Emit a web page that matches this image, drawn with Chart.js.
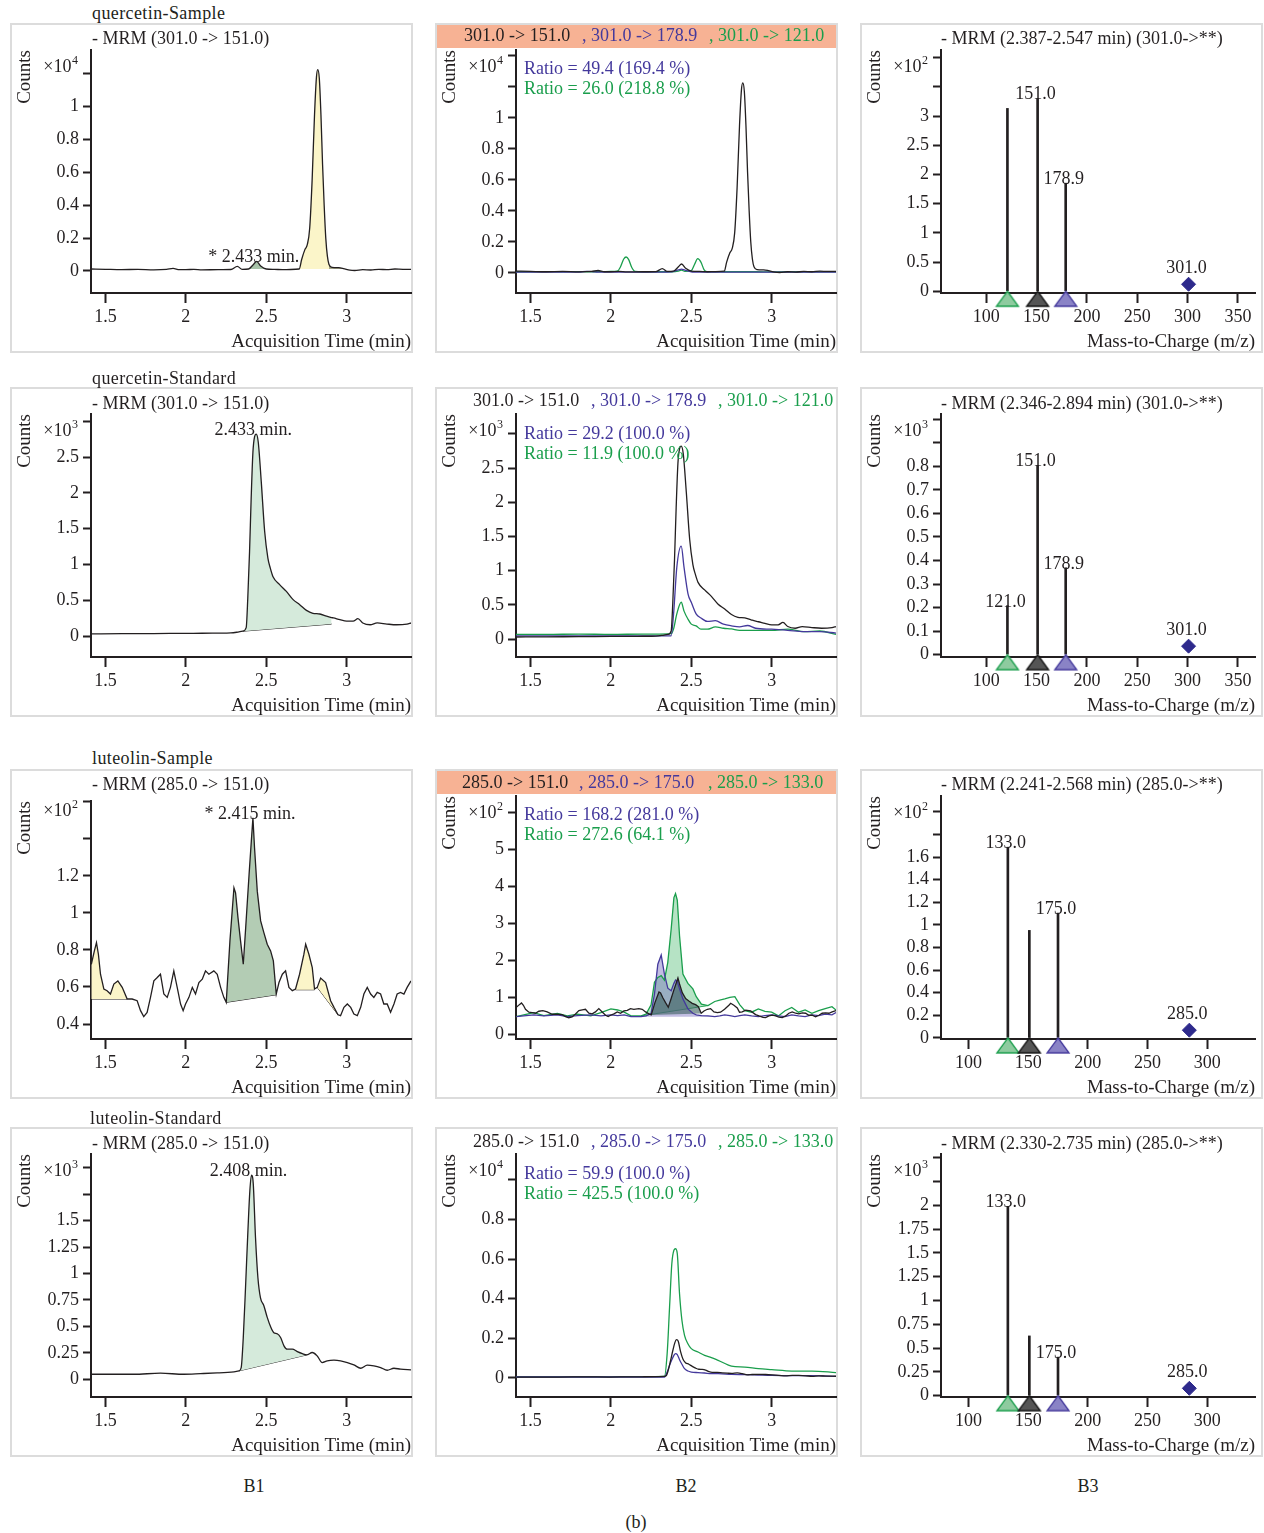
<!DOCTYPE html>
<html lang="en">
<head>
<meta charset="UTF-8">
<title>MRM chromatograms and product ion spectra</title>
<script src="https://cdn.jsdelivr.net/npm/chart.js"></script>
<style>
  body { margin: 0; background: #fff; font-family: "Liberation Serif", "Times New Roman", serif; color: #231f20; }
  #page { position: relative; width: 1264px; height: 1533px; }
  .box { position: absolute; width: 403px; height: 330px; box-sizing: border-box; border: 2px solid #dcdcdc; }
  .hdr { position: absolute; width: 399px; height: 23px; background: #f7b294; }
  canvas { position: absolute; }
  .t { position: absolute; font-size: 18px; line-height: 20px; white-space: nowrap; }
  .nm { letter-spacing: 0.4px; }
  .c { transform: translateX(-50%); }
  .pu { color: #44399c; }
  .gr { color: #1a9e4c; }
</style>
</head>
<body>
<div id="page">
  <!-- panel frames -->
  <div class="box" style="left:10px;top:23px"></div>
  <div class="box" style="left:435px;top:23px"></div>
  <div class="box" style="left:860px;top:23px"></div>
  <div class="box" style="left:10px;top:387px"></div>
  <div class="box" style="left:435px;top:387px"></div>
  <div class="box" style="left:860px;top:387px"></div>
  <div class="box" style="left:10px;top:769px"></div>
  <div class="box" style="left:435px;top:769px"></div>
  <div class="box" style="left:860px;top:769px"></div>
  <div class="box" style="left:10px;top:1127px"></div>
  <div class="box" style="left:435px;top:1127px"></div>
  <div class="box" style="left:860px;top:1127px"></div>
  <div class="hdr" style="left:437px;top:25px"></div>
  <div class="hdr" style="left:437px;top:771px"></div>

  <canvas id="p11" width="403" height="330" style="left:10px;top:23px"></canvas>
  <canvas id="p12" width="403" height="330" style="left:435px;top:23px"></canvas>
  <canvas id="p13" width="403" height="330" style="left:860px;top:23px"></canvas>
  <canvas id="p21" width="403" height="330" style="left:10px;top:387px"></canvas>
  <canvas id="p22" width="403" height="330" style="left:435px;top:387px"></canvas>
  <canvas id="p23" width="403" height="330" style="left:860px;top:387px"></canvas>
  <canvas id="p31" width="403" height="330" style="left:10px;top:769px"></canvas>
  <canvas id="p32" width="403" height="330" style="left:435px;top:769px"></canvas>
  <canvas id="p33" width="403" height="330" style="left:860px;top:769px"></canvas>
  <canvas id="p41" width="403" height="330" style="left:10px;top:1127px"></canvas>
  <canvas id="p42" width="403" height="330" style="left:435px;top:1127px"></canvas>
  <canvas id="p43" width="403" height="330" style="left:860px;top:1127px"></canvas>

  <!-- B1 titles -->
  <div class="t nm" style="left:92px;top:3px">quercetin-Sample</div>
  <div class="t" style="left:92px;top:28px">- MRM (301.0 -&gt; 151.0)</div>
  <div class="t nm" style="left:92px;top:368px">quercetin-Standard</div>
  <div class="t" style="left:92px;top:393px">- MRM (301.0 -&gt; 151.0)</div>
  <div class="t nm" style="left:92px;top:748px">luteolin-Sample</div>
  <div class="t" style="left:92px;top:774px">- MRM (285.0 -&gt; 151.0)</div>
  <div class="t nm" style="left:90px;top:1108px">luteolin-Standard</div>
  <div class="t" style="left:92px;top:1133px">- MRM (285.0 -&gt; 151.0)</div>

  <!-- B2 transitions and ratios -->
  <div class="t" style="left:464px;top:25px">301.0 -&gt; 151.0</div>
  <div class="t pu" style="left:582px;top:25px">, 301.0 -&gt; 178.9</div>
  <div class="t gr" style="left:709px;top:25px">, 301.0 -&gt; 121.0</div>
  <div class="t pu" style="left:524px;top:58px">Ratio = 49.4 (169.4 %)</div>
  <div class="t gr" style="left:524px;top:78px">Ratio = 26.0 (218.8 %)</div>

  <div class="t" style="left:473px;top:390px">301.0 -&gt; 151.0</div>
  <div class="t pu" style="left:591px;top:390px">, 301.0 -&gt; 178.9</div>
  <div class="t gr" style="left:718px;top:390px">, 301.0 -&gt; 121.0</div>
  <div class="t pu" style="left:524px;top:423px">Ratio = 29.2 (100.0 %)</div>
  <div class="t gr" style="left:524px;top:443px">Ratio = 11.9 (100.0 %)</div>

  <div class="t" style="left:462px;top:772px">285.0 -&gt; 151.0</div>
  <div class="t pu" style="left:579px;top:772px">, 285.0 -&gt; 175.0</div>
  <div class="t gr" style="left:708px;top:772px">, 285.0 -&gt; 133.0</div>
  <div class="t pu" style="left:524px;top:804px">Ratio = 168.2 (281.0 %)</div>
  <div class="t gr" style="left:524px;top:824px">Ratio = 272.6 (64.1 %)</div>

  <div class="t" style="left:473px;top:1131px">285.0 -&gt; 151.0</div>
  <div class="t pu" style="left:591px;top:1131px">, 285.0 -&gt; 175.0</div>
  <div class="t gr" style="left:718px;top:1131px">, 285.0 -&gt; 133.0</div>
  <div class="t pu" style="left:524px;top:1163px">Ratio = 59.9 (100.0 %)</div>
  <div class="t gr" style="left:524px;top:1183px">Ratio = 425.5 (100.0 %)</div>

  <!-- B3 titles -->
  <div class="t" style="left:941px;top:28px">- MRM (2.387-2.547 min) (301.0-&gt;**)</div>
  <div class="t" style="left:941px;top:393px">- MRM (2.346-2.894 min) (301.0-&gt;**)</div>
  <div class="t" style="left:941px;top:774px">- MRM (2.241-2.568 min) (285.0-&gt;**)</div>
  <div class="t" style="left:941px;top:1133px">- MRM (2.330-2.735 min) (285.0-&gt;**)</div>

  <div class="t c" style="left:254px;top:1476px">B1</div>
  <div class="t c" style="left:686px;top:1476px">B2</div>
  <div class="t c" style="left:1088px;top:1476px">B3</div>
  <div class="t c" style="left:636px;top:1512px">(b)</div>
</div>

<script>
// ---- quercetin sample, 301.0 -> 151.0 (x10^4 counts) ----
const qSmpTime = [1.41, 1.5, 1.6, 1.7, 1.8, 1.88, 1.92, 1.96, 2.0, 2.05, 2.1, 2.2, 2.28, 2.32, 2.35, 2.39, 2.42, 2.44, 2.465, 2.5,
  2.55, 2.6, 2.65, 2.705, 2.72, 2.74, 2.755, 2.77, 2.785, 2.80, 2.812, 2.82, 2.83, 2.84, 2.85, 2.86, 2.87, 2.88, 2.89, 2.91,
  2.95, 2.98, 3.02, 3.05, 3.1, 3.15, 3.2, 3.25, 3.3, 3.35, 3.4];
const qSmp151 = [0.012, 0.01, 0.008, 0.01, 0.007, 0.01, 0.016, 0.008, 0.008, 0.01, 0.007, 0.008, 0.009, 0.028, 0.01, 0.012, 0.04, 0.058, 0.03, 0.012,
  0.01, 0.008, 0.009, 0.012, 0.07, 0.13, 0.16, 0.26, 0.55, 0.95, 1.18, 1.225, 1.17, 0.95, 0.65, 0.4, 0.2, 0.09, 0.04, 0.022,
  0.02, 0.015, 0.005, 0.003, 0.008, 0.006, 0.01, 0.008, 0.012, 0.01, 0.01];
// qualifier ions
const qSmpIonTime = [1.41, 1.5, 1.6, 1.7, 1.8, 1.85, 1.9, 1.95, 2.0, 2.04, 2.06, 2.08, 2.095, 2.11, 2.13, 2.15, 2.2, 2.3, 2.38, 2.42,
  2.44, 2.46, 2.5, 2.52, 2.54, 2.56, 2.58, 2.6, 2.7, 2.8, 2.9, 3.0, 3.1, 3.2, 3.3, 3.4];
const qSmp179 = [0.006, 0.005, 0.006, 0.005, 0.006, 0.01, 0.007, 0.005, 0.005, 0.005, 0.005, 0.005, 0.005, 0.005, 0.005, 0.005, 0.005, 0.006, 0.008, 0.02,
  0.025, 0.018, 0.008, 0.006, 0.005, 0.005, 0.005, 0.005, 0.005, 0.006, 0.005, 0.006, 0.005, 0.006, 0.005, 0.006];
const qSmp121 = [0.008, 0.008, 0.009, 0.008, 0.009, 0.008, 0.008, 0.009, 0.01, 0.012, 0.04, 0.09, 0.103, 0.088, 0.035, 0.01, 0.008, 0.008, 0.008, 0.012,
  0.018, 0.01, 0.015, 0.055, 0.092, 0.07, 0.02, 0.008, 0.008, 0.008, 0.008, 0.007, 0.008, 0.008, 0.007, 0.008];
// integrated peaks: [start, end, baseline at start, baseline at end]
const qSmpPeaks = [[2.39, 2.50, 0.012, 0.012], [2.705, 2.89, 0.012, 0.012], [2.89, 2.98, 0.012, 0.012]];

// ---- quercetin standard, 301.0 -> 151.0 (x10^3 counts) ----
const qStdTime = [1.41, 1.6, 1.8, 2.0, 2.1, 2.2, 2.28, 2.33, 2.354, 2.375, 2.385, 2.396, 2.406, 2.417, 2.427, 2.4375, 2.45, 2.469, 2.49, 2.51,
  2.525, 2.542, 2.583, 2.625, 2.667, 2.708, 2.75, 2.79, 2.833, 2.875, 2.906, 2.917, 2.958, 3.0, 3.04, 3.07, 3.1, 3.146, 3.19, 3.25,
  3.31, 3.375, 3.4];
const qStd151 = [0.032, 0.035, 0.037, 0.04, 0.041, 0.043, 0.046, 0.06, 0.07, 0.12, 0.53, 1.18, 1.92, 2.57, 2.78, 2.82, 2.71, 2.15, 1.46, 1.09,
  0.95, 0.83, 0.72, 0.625, 0.51, 0.44, 0.36, 0.32, 0.31, 0.28, 0.26, 0.255, 0.23, 0.21, 0.21, 0.245, 0.185, 0.16, 0.185, 0.17,
  0.16, 0.17, 0.185];
const qStdIonTime = [1.41, 1.6, 1.8, 2.0, 2.2, 2.3, 2.375, 2.39, 2.41, 2.4375, 2.455, 2.48, 2.5, 2.53, 2.56, 2.6, 2.65, 2.7, 2.75, 2.8,
  2.85, 2.9, 3.0, 3.1, 3.2, 3.3, 3.4];
const qStd179 = [0.05, 0.05, 0.05, 0.05, 0.05, 0.05, 0.05, 0.37, 1.05, 1.36, 1.05, 0.66, 0.54, 0.37, 0.31, 0.26, 0.27, 0.22, 0.195, 0.18,
  0.2, 0.16, 0.146, 0.13, 0.11, 0.11, 0.09];
const qStd121 = [0.07, 0.07, 0.075, 0.07, 0.075, 0.075, 0.08, 0.15, 0.37, 0.54, 0.41, 0.29, 0.22, 0.195, 0.146, 0.146, 0.18, 0.16, 0.15, 0.13,
  0.13, 0.13, 0.13, 0.146, 0.11, 0.12, 0.07];
const qStdPeaks = [[2.354, 2.906, 0.07, 0.17]];

// ---- luteolin sample, 285.0 -> 151.0 (x10^2 counts) ----
const lutSmpTime = [1.412, 1.431, 1.444, 1.456, 1.469, 1.490, 1.510, 1.531, 1.552, 1.577, 1.604, 1.635, 1.666, 1.697, 1.718, 1.738, 1.759, 1.780, 1.801, 1.822,
  1.842, 1.863, 1.884, 1.904, 1.925, 1.946, 1.967, 1.983, 1.998, 2.019, 2.040, 2.060, 2.081, 2.102, 2.122, 2.143, 2.174, 2.195, 2.216, 2.236,
  2.251, 2.274, 2.299, 2.309, 2.324, 2.340, 2.357, 2.372, 2.393, 2.407, 2.417, 2.427, 2.444, 2.465, 2.485, 2.506, 2.527, 2.544, 2.562, 2.579,
  2.600, 2.620, 2.641, 2.662, 2.682, 2.707, 2.734, 2.745, 2.765, 2.786, 2.800, 2.817, 2.838, 2.869, 2.900, 2.921, 2.946, 2.962, 2.983, 3.004,
  3.025, 3.045, 3.066, 3.087, 3.107, 3.128, 3.149, 3.169, 3.190, 3.211, 3.231, 3.252, 3.273, 3.294, 3.314, 3.335, 3.356, 3.376, 3.40];
const lutSmp151 = [0.723, 0.795, 0.840, 0.777, 0.669, 0.589, 0.580, 0.562, 0.616, 0.633, 0.598, 0.535, 0.535, 0.526, 0.472, 0.440, 0.463, 0.544, 0.633, 0.651,
  0.669, 0.562, 0.544, 0.598, 0.687, 0.598, 0.508, 0.472, 0.508, 0.544, 0.598, 0.562, 0.624, 0.642, 0.687, 0.669, 0.687, 0.669, 0.598, 0.544,
  0.517, 0.849, 1.136, 1.109, 0.975, 0.849, 0.723, 0.921, 1.208, 1.388, 1.514, 1.352, 1.118, 0.957, 0.894, 0.831, 0.795, 0.741, 0.562, 0.624,
  0.669, 0.687, 0.598, 0.580, 0.589, 0.669, 0.777, 0.831, 0.777, 0.705, 0.589, 0.598, 0.648, 0.624, 0.526, 0.490, 0.450, 0.445, 0.490, 0.508,
  0.490, 0.454, 0.445, 0.490, 0.562, 0.598, 0.562, 0.544, 0.571, 0.562, 0.508, 0.508, 0.463, 0.508, 0.562, 0.571, 0.562, 0.598, 0.633];
const lutSmpIonTime = [1.412, 1.458, 1.521, 1.583, 1.667, 1.729, 1.792, 1.875, 1.938, 2.0, 2.042, 2.083, 2.125, 2.188, 2.219, 2.25, 2.271, 2.292, 2.313, 2.333,
  2.354, 2.375, 2.392, 2.402, 2.413, 2.427, 2.448, 2.479, 2.51, 2.531, 2.563, 2.604, 2.646, 2.677, 2.708, 2.74, 2.771, 2.802, 2.833, 2.875,
  2.917, 2.958, 3.0, 3.042, 3.083, 3.125, 3.167, 3.208, 3.25, 3.292, 3.333, 3.375, 3.4];
const lutSmp175 = [0.47, 0.49, 0.52, 0.49, 0.52, 0.47, 0.5, 0.52, 0.49, 0.52, 0.5, 0.52, 0.47, 0.47, 0.49, 0.56, 1.08, 1.89, 2.14, 1.62,
  1.24, 1.17, 1.37, 1.46, 1.42, 1.22, 0.95, 0.68, 0.56, 0.52, 0.5, 0.49, 0.47, 0.49, 0.52, 0.5, 0.47, 0.5, 0.52, 0.49,
  0.47, 0.5, 0.52, 0.49, 0.47, 0.52, 0.49, 0.47, 0.52, 0.5, 0.54, 0.52, 0.58];
const lutSmp133 = [0.47, 0.52, 0.58, 0.5, 0.56, 0.49, 0.54, 0.49, 0.58, 0.68, 0.65, 0.59, 0.49, 0.49, 0.54, 0.79, 1.4, 1.53, 1.58, 1.46,
  1.94, 2.84, 3.69, 3.8, 3.62, 2.66, 1.62, 1.37, 1.22, 1.01, 0.81, 0.77, 0.88, 0.92, 0.95, 0.99, 1.01, 0.79, 0.63, 0.59,
  0.68, 0.61, 0.59, 0.49, 0.63, 0.72, 0.59, 0.65, 0.56, 0.63, 0.69, 0.74, 0.65];
const lutSmpPeaks = [[1.412, 1.635, 0.535, 0.535], [2.251, 2.562, 0.517, 0.558], [2.682, 2.800, 0.585, 0.585], [2.817, 2.946, 0.598, 0.450]];
const lutSmp175Peak = [2.188, 2.646, 0.47, 0.47];
const lutSmp133Peak = [2.188, 2.604, 0.49, 0.77];

// ---- luteolin standard, 285.0 -> 151.0 (x10^3 counts) ----
const lutStdTime = [1.412, 1.676, 1.842, 1.988, 2.091, 2.195, 2.299, 2.33, 2.344, 2.357, 2.371, 2.386, 2.398, 2.408, 2.419, 2.433, 2.448, 2.464, 2.485, 2.506,
  2.527, 2.547, 2.568, 2.589, 2.61, 2.63, 2.662, 2.693, 2.724, 2.751, 2.786, 2.817, 2.848, 2.879, 2.921, 2.962, 3.004, 3.045, 3.087, 3.128,
  3.169, 3.211, 3.252, 3.294, 3.335, 3.401];
const lutStd151 = [0.047, 0.047, 0.057, 0.047, 0.053, 0.06, 0.07, 0.079, 0.11, 0.395, 0.87, 1.41, 1.785, 1.93, 1.85, 1.34, 0.96, 0.77, 0.695, 0.585,
  0.496, 0.44, 0.43, 0.395, 0.316, 0.284, 0.284, 0.262, 0.243, 0.23, 0.253, 0.22, 0.158, 0.174, 0.18, 0.174, 0.158, 0.136, 0.104, 0.133,
  0.126, 0.11, 0.085, 0.104, 0.095, 0.088];
// qualifier ions in x10^4 counts
const lutStdIonTime = [1.41, 1.6, 1.8, 2.0, 2.2, 2.333, 2.35, 2.365, 2.379, 2.392, 2.402, 2.413, 2.427, 2.442, 2.458, 2.479, 2.5, 2.542, 2.583, 2.625,
  2.667, 2.75, 2.833, 2.917, 3.0, 3.125, 3.25, 3.4];
const lutStd175 = [0.005, 0.005, 0.005, 0.005, 0.005, 0.005, 0.03, 0.064, 0.092, 0.114, 0.123, 0.118, 0.092, 0.069, 0.047, 0.035, 0.03, 0.027, 0.025, 0.022,
  0.022, 0.018, 0.017, 0.015, 0.013, 0.012, 0.012, 0.008];
const lutStd133 = [0.006, 0.006, 0.006, 0.006, 0.007, 0.008, 0.123, 0.358, 0.576, 0.644, 0.652, 0.627, 0.425, 0.29, 0.215, 0.173, 0.148, 0.131, 0.114, 0.103,
  0.089, 0.06, 0.055, 0.047, 0.042, 0.035, 0.035, 0.027];
const lutStdPeaks = [[2.33, 2.751, 0.079, 0.23]];

// ---- product ion spectra ----
const qSmpMz = [121.0, 151.0, 178.9];
const qSmpAbund = [3.13, 3.30, 1.85];          // x10^2
const qSmpShown = [false, true, true];
const qSmpPrec = [301.0, 0.12];
const qStdMz = [121.0, 151.0, 178.9];
const qStdAbund = [0.208, 0.804, 0.369];       // x10^3
const qStdShown = [true, true, true];
const qStdPrec = [301.0, 0.036];
const lutSmpMz = [133.0, 151.0, 175.0];
const lutSmpAbund = [1.687, 0.951, 1.104];     // x10^2
const lutSmpShown = [true, false, true];
const lutSmpPrec = [285.0, 0.068];
const lutStdMz = [133.0, 151.0, 175.0];
const lutStdAbund = [1.99, 0.628, 0.405];      // x10^3
const lutStdShown = [true, false, true];
const lutStdPrec = [285.0, 0.077];

// ---------------------------------------------------------------
const ink = '#231f20';
const purple = '#44399c';
const green = '#1a9e4c';
const navy = '#2e2a8c';
const serif = '"Liberation Serif", "Times New Roman", serif';
Chart.defaults.font.family = serif;
Chart.defaults.font.size = 18;
Chart.defaults.color = ink;

function fmt(v) { return String(parseFloat(v.toFixed(3))); }
function pts(time, vals) { return time.map((t, i) => ({x: t, y: vals[i]})); }

function makeScales(xr, yr, xTitle) {
  const axisLine = {display: true, color: ink, width: 2};
  return {
    x: {
      type: 'linear', min: xr.min, max: xr.max, offset: false,
      border: axisLine,
      grid: {display: true, drawOnChartArea: false, drawTicks: true, tickLength: 10, tickWidth: 2, tickColor: ink, offset: false},
      ticks: {stepSize: xr.step, includeBounds: false, autoSkip: false, maxRotation: 0, padding: 3, callback: v => fmt(v)},
      title: {display: true, text: xTitle, align: 'end', font: {size: 19}, padding: {top: 0, bottom: 0}},
      afterFit: s => { s.height = 60; }
    },
    y: {
      type: 'linear', min: yr.min, max: yr.max,
      border: axisLine,
      grid: {display: true, drawOnChartArea: false, drawTicks: true, tickLength: 8, tickWidth: 2, tickColor: ink},
      ticks: {stepSize: yr.step, includeBounds: false, autoSkip: false, padding: 4,
        callback: v => (v > yr.labelMax + 1e-6 ? '' : fmt(v))},
      title: {display: true, text: 'Counts', align: 'end', font: {size: 19}, padding: {top: 4, bottom: 0}},
      afterFit: s => { s.width = 81; }
    }
  };
}

// "x10^n" multiplier beside the top of the y axis
function expPlugin(exp, dy) {
  return {
    id: 'exp',
    afterDraw(chart) {
      const ctx = chart.ctx, a = chart.chartArea;
      const xr = a.left - 13, yc = a.top + dy;
      ctx.save();
      ctx.fillStyle = ink;
      ctx.textAlign = 'right';
      ctx.textBaseline = 'middle';
      ctx.font = '12px ' + serif;
      ctx.fillText(String(exp), xr, yc - 6);
      const w = ctx.measureText(String(exp)).width;
      ctx.font = '18px ' + serif;
      ctx.fillText('\u00d710', xr - w - 0.5, yc);
      ctx.restore();
    }
  };
}

// retention time label over a peak apex
function notePlugin(text, time, vals, at) {
  return {
    id: 'note',
    afterDatasetsDraw(chart) {
      let k = 0;
      time.forEach((t, i) => { if (Math.abs(t - at) < Math.abs(time[k] - at)) k = i; });
      const x = chart.scales.x.getPixelForValue(time[k]);
      const y = chart.scales.y.getPixelForValue(vals[k]);
      const ctx = chart.ctx;
      ctx.save();
      ctx.font = '18px ' + serif;
      ctx.fillStyle = ink;
      ctx.textAlign = 'center';
      ctx.textBaseline = 'alphabetic';
      ctx.fillText(text, x - 3, y + 1);
      ctx.restore();
    }
  };
}

function chrom(id, o) {
  const mode = o.smooth ? 'monotone' : 'default';
  const ds = [];
  o.traces.forEach(tr => ds.push({
    data: pts(tr.t, tr.v), borderColor: tr.c, borderWidth: 1.3, pointRadius: 0, fill: false,
    tension: 0, cubicInterpolationMode: mode
  }));
  o.peaks.forEach(pk => {
    const [a, b, b0, b1] = pk.lim;
    ds.push({
      data: pts(pk.t, pk.v).filter(p => p.x >= a - 1e-6 && p.x <= b + 1e-6),
      borderWidth: 0, borderColor: 'rgba(0,0,0,0)', pointRadius: 0, backgroundColor: pk.fill, fill: '+1',
      tension: 0, cubicInterpolationMode: mode
    });
    ds.push({
      data: [{x: a, y: b0}, {x: b, y: b1}],
      borderColor: pk.edge || 'rgba(0,0,0,0)', borderWidth: 1, pointRadius: 0, fill: false
    });
  });
  const plugins = [expPlugin(o.exp, o.expDy || 17)];
  if (o.note) plugins.push(notePlugin(o.note.text, o.note.t, o.note.v, o.note.at));
  new Chart(document.getElementById(id), {
    type: 'line',
    data: {datasets: ds},
    options: {
      responsive: false, animation: false, events: [],
      layout: {padding: {top: o.top || 27, right: 2, left: 0, bottom: 0}},
      plugins: {legend: {display: false}, tooltip: {enabled: false}},
      scales: makeScales({min: 1.41, max: 3.40, step: 0.5}, o.y, 'Acquisition Time (min)')
    },
    plugins: plugins
  });
}

// triangle marker: apex at the image centre, body below it
function triangle(fill, stroke) {
  const c = document.createElement('canvas');
  c.width = 26; c.height = 34;
  const g = c.getContext('2d');
  g.beginPath();
  g.moveTo(13, 17); g.lineTo(24, 32); g.lineTo(2, 32); g.closePath();
  g.fillStyle = fill; g.fill();
  g.lineWidth = 1.3; g.strokeStyle = stroke; g.stroke();
  return c;
}
const ionMarkers = [triangle('#8ecb9f', '#1a9e4c'), triangle('#555555', '#111111'), triangle('#8a83c6', '#44399c')];

function spec(id, o) {
  const ds = [
    {type: 'scatter', data: [{x: o.prec[0], y: o.prec[1]}], pointStyle: 'rectRot', pointRadius: 7,
      backgroundColor: navy, borderColor: navy, borderWidth: 1},
    {type: 'scatter', data: o.mz.map(m => ({x: m, y: 0})), pointStyle: ionMarkers, clip: false},
    {type: 'bar', data: o.mz.map((m, i) => ({x: m, y: o.abund[i]})), backgroundColor: ink, barThickness: 2}
  ];
  const labels = {
    id: 'mzLabels',
    afterDatasetsDraw(chart) {
      const ctx = chart.ctx, xs = chart.scales.x, ys = chart.scales.y;
      ctx.save();
      ctx.font = '18px ' + serif;
      ctx.fillStyle = ink;
      ctx.textAlign = 'center';
      ctx.textBaseline = 'alphabetic';
      o.mz.forEach((m, i) => {
        if (o.shown[i]) ctx.fillText(m.toFixed(1), xs.getPixelForValue(m) - 2, ys.getPixelForValue(o.abund[i]) + 1);
      });
      ctx.fillText(o.prec[0].toFixed(1), xs.getPixelForValue(o.prec[0]) - 2, ys.getPixelForValue(o.prec[1]) - 11);
      ctx.restore();
    }
  };
  new Chart(document.getElementById(id), {
    type: 'scatter',
    data: {datasets: ds},
    options: {
      responsive: false, animation: false, events: [],
      layout: {padding: {top: 27, right: 2, left: 0, bottom: 0}},
      plugins: {legend: {display: false}, tooltip: {enabled: false}},
      scales: makeScales(o.x, o.y, 'Mass-to-Charge (m/z)')
    },
    plugins: [expPlugin(o.exp, 17), labels]
  });
}

const yellow = '#fbf5c9';
const paleGreen = '#d5eadb';
const peakGreen = '#b3ccb4';

// row 1: quercetin sample
chrom('p11', {
  smooth: true, exp: 4,
  y: {min: -0.134, max: 1.345, step: 0.2, labelMax: 1},
  traces: [{t: qSmpTime, v: qSmp151, c: ink}],
  peaks: [
    {t: qSmpTime, v: qSmp151, lim: qSmpPeaks[0], fill: '#a8c3a9'},
    {t: qSmpTime, v: qSmp151, lim: qSmpPeaks[1], fill: yellow},
    {t: qSmpTime, v: qSmp151, lim: qSmpPeaks[2], fill: '#a3a486'}
  ],
  note: {text: '* 2.433 min.', t: qSmpTime, v: qSmp151, at: 2.44}
});
chrom('p12', {
  smooth: true, exp: 4,
  y: {min: -0.129, max: 1.437, step: 0.2, labelMax: 1},
  traces: [
    {t: qSmpTime, v: qSmp151, c: ink},
    {t: qSmpIonTime, v: qSmp179, c: purple},
    {t: qSmpIonTime, v: qSmp121, c: green}
  ],
  peaks: []
});
spec('p13', {
  mz: qSmpMz, abund: qSmpAbund, shown: qSmpShown, prec: qSmpPrec, exp: 2,
  x: {min: 55, max: 367, step: 50},
  y: {min: -0.03, max: 4.13, step: 0.5, labelMax: 3}
});

// row 2: quercetin standard
chrom('p21', {
  smooth: true, exp: 3,
  y: {min: -0.29, max: 3.10, step: 0.5, labelMax: 2.5},
  traces: [{t: qStdTime, v: qStd151, c: ink}],
  peaks: [{t: qStdTime, v: qStd151, lim: qStdPeaks[0], fill: paleGreen, edge: ink}],
  note: {text: '2.433 min.', t: qStdTime, v: qStd151, at: 2.4375}
});
chrom('p22', {
  smooth: true, exp: 3,
  y: {min: -0.26, max: 3.29, step: 0.5, labelMax: 2.5},
  traces: [
    {t: qStdTime, v: qStd151, c: ink},
    {t: qStdIonTime, v: qStd179, c: purple},
    {t: qStdIonTime, v: qStd121, c: green}
  ],
  peaks: []
});
spec('p23', {
  mz: qStdMz, abund: qStdAbund, shown: qStdShown, prec: qStdPrec, exp: 3,
  x: {min: 55, max: 367, step: 50},
  y: {min: -0.01, max: 1.022, step: 0.1, labelMax: 0.8}
});

// row 3: luteolin sample
chrom('p31', {
  smooth: false, exp: 2, expDy: 10, top: 32,
  y: {min: 0.319, max: 1.605, step: 0.2, labelMax: 1.2},
  traces: [{t: lutSmpTime, v: lutSmp151, c: ink}],
  peaks: [
    {t: lutSmpTime, v: lutSmp151, lim: lutSmpPeaks[0], fill: yellow, edge: ink},
    {t: lutSmpTime, v: lutSmp151, lim: lutSmpPeaks[1], fill: peakGreen, edge: ink},
    {t: lutSmpTime, v: lutSmp151, lim: lutSmpPeaks[2], fill: yellow, edge: ink},
    {t: lutSmpTime, v: lutSmp151, lim: lutSmpPeaks[3], fill: yellow, edge: ink}
  ],
  note: {text: '* 2.415 min.', t: lutSmpTime, v: lutSmp151, at: 2.417}
});
chrom('p32', {
  smooth: false, exp: 2,
  y: {min: -0.135, max: 6.44, step: 1, labelMax: 5},
  traces: [
    {t: lutSmpTime, v: lutSmp151, c: ink},
    {t: lutSmpIonTime, v: lutSmp175, c: purple},
    {t: lutSmpIonTime, v: lutSmp133, c: green}
  ],
  peaks: [
    {t: lutSmpTime, v: lutSmp151, lim: lutSmpPeaks[1], fill: 'rgba(60,95,95,0.6)'},
    {t: lutSmpIonTime, v: lutSmp175, lim: lutSmp175Peak, fill: 'rgba(120,110,190,0.45)'},
    {t: lutSmpIonTime, v: lutSmp133, lim: lutSmp133Peak, fill: 'rgba(110,200,140,0.5)', edge: green}
  ]
});
spec('p33', {
  mz: lutSmpMz, abund: lutSmpAbund, shown: lutSmpShown, prec: lutSmpPrec, exp: 2,
  x: {min: 77, max: 340, step: 50},
  y: {min: -0.01, max: 2.14, step: 0.2, labelMax: 1.6}
});

// row 4: luteolin standard
chrom('p41', {
  smooth: true, exp: 3,
  y: {min: -0.168, max: 2.13, step: 0.25, labelMax: 1.5},
  traces: [{t: lutStdTime, v: lutStd151, c: ink}],
  peaks: [{t: lutStdTime, v: lutStd151, lim: lutStdPeaks[0], fill: paleGreen, edge: ink}],
  note: {text: '2.408 min.', t: lutStdTime, v: lutStd151, at: 2.408}
});
chrom('p42', {
  smooth: true, exp: 4,
  y: {min: -0.096, max: 1.13, step: 0.2, labelMax: 0.8},
  traces: [
    {t: lutStdTime, v: lutStd151.map(v => v / 10), c: ink},   // x10^3 -> x10^4
    {t: lutStdIonTime, v: lutStd175, c: purple},
    {t: lutStdIonTime, v: lutStd133, c: green}
  ],
  peaks: []
});
spec('p43', {
  mz: lutStdMz, abund: lutStdAbund, shown: lutStdShown, prec: lutStdPrec, exp: 3,
  x: {min: 77, max: 340, step: 50},
  y: {min: -0.014, max: 2.54, step: 0.25, labelMax: 2}
});
</script>
</body>
</html>
